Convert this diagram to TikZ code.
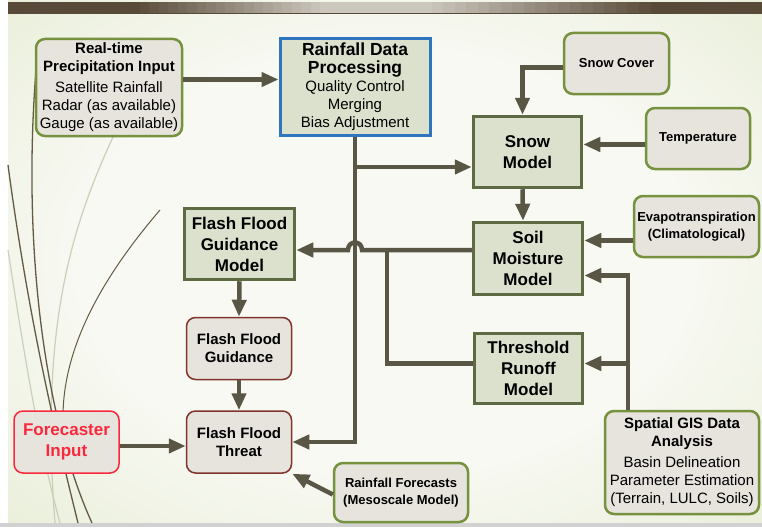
\documentclass[tikz,border=0pt]{standalone}
\usepackage{fontspec}
\setmainfont{Liberation Sans}
\usetikzlibrary{positioning, arrows.meta}

\definecolor{ln}{RGB}{90,86,70}
\definecolor{grn}{RGB}{118,146,62}
\definecolor{mdl}{RGB}{94,107,66}
\definecolor{boxbg}{RGB}{231,228,221}
\definecolor{mdlbg}{RGB}{220,225,205}
\definecolor{blu}{RGB}{46,117,190}
\definecolor{dred}{RGB}{128,52,44}
\definecolor{fred}{RGB}{250,40,60}
\definecolor{bgin}{RGB}{248,249,243}
\definecolor{bgout}{RGB}{221,230,196}
\definecolor{bar}{RGB}{88,74,56}
\definecolor{barhi}{RGB}{205,200,190}
\definecolor{grass}{RGB}{100,90,68}
\definecolor{fgrass}{RGB}{200,208,185}

\pgfdeclareradialshading{slidebg}{\pgfpoint{0bp}{0bp}}{color(0bp)=(bgin); color(20bp)=(bgin); color(50bp)=(bgout)}

\begin{document}
\begin{tikzpicture}[x=1pt, y=-1pt, >={Triangle[length=17pt,width=14pt]},
    conn/.style={draw=ln, line width=4.5pt},
    src/.style={draw=grn, fill=boxbg, line width=2.5pt, rounded corners=9pt, align=center, inner sep=0pt,
        font=\fontsize{15}{18}\selectfont},
    tiny/.style={font=\fontsize{13}{17}\selectfont\bfseries},
    model/.style={draw=mdl, fill=mdlbg, line width=3.5pt, align=center, inner sep=0pt,
        font=\fontsize{17}{21}\selectfont\bfseries},
    prod/.style={draw=dred, fill=boxbg, line width=1.5pt, rounded corners=9pt, align=center, inner sep=0pt,
        font=\fontsize{15}{18}\selectfont\bfseries}]
    % slide background
    \useasboundingbox (0,0) rectangle (762,527);
    \fill[white] (0,0) rectangle (762,527);
    \shade[shading=slidebg] (8,0) rectangle (762,523);
    \fill[black!18] (0,523) rectangle (762,527);
    % title bar with its sheen
    \fill[bar] (8,2) rectangle (762,14);
    \foreach \i [evaluate=\i as \p using int(5*\i)] in {0,...,19}
        \fill[barhi!\p!bar] (130+9.5*\i,2) rectangle (140+9.5*\i,14);
    \fill[barhi] (320,2) rectangle (420,14);
    \foreach \i [evaluate=\i as \p using int(100-5*\i)] in {0,...,19}
        \fill[barhi!\p!bar] (420+11.5*\i,2) rectangle (432+11.5*\i,14);
    \draw[bar, line width=1pt] (8,14) -- (762,14);
    % grass on the left
    \draw[fgrass, line width=1.2pt] (113,137) .. controls (70,230) and (40,330) .. (55,523);
    \draw[fgrass, line width=1.2pt] (8,250) .. controls (25,360) and (40,450) .. (60,523);
    \draw[grass, line width=1.3pt] (8,165) .. controls (30,330) and (60,450) .. (78,523);
    \draw[grass, line width=1.3pt] (36,70) .. controls (22,250) and (45,420) .. (92,523);
    \draw[grass, line width=1pt] (160,210) .. controls (100,280) and (62,350) .. (63,420);

    \node[src, minimum width=146pt, minimum height=97pt] (rt) at (109,87.5)
        {\textbf{Real-time}\\\textbf{Precipitation Input}\\[3pt]Satellite Rainfall\\Radar (as available)\\Gauge (as available)};
    \node[src, draw=blu, fill=mdlbg, line width=3pt, rounded corners=0pt, minimum width=150pt, minimum height=97pt] (rdp) at (355,87)
        {{\fontsize{17.5}{20}\selectfont\bfseries Rainfall Data}\\{\fontsize{17.5}{20}\selectfont\bfseries Processing}\\Quality Control\\Merging\\Bias Adjustment};
    \node[src, tiny, minimum width=105pt, minimum height=61pt] (sc) at (616.5,63.5) {Snow Cover};
    \node[src, tiny, minimum width=104pt, minimum height=61pt] (tmp) at (698,138.5) {Temperature};
    \node[model, minimum width=108pt, minimum height=71pt] (snow) at (527.5,152) {Snow\\Model};
    \node[src, tiny, minimum width=125pt, minimum height=61pt] (evp) at (696.5,226.5) {Evapotranspiration\\(Climatological)};
    \node[model, minimum width=109pt, minimum height=72pt] (soil) at (528,258.5) {Soil\\Moisture\\Model};
    \node[model, minimum width=110pt, minimum height=71pt] (ffgm) at (239.5,244) {Flash Flood\\Guidance\\Model};
    \node[prod, minimum width=105pt, minimum height=62pt] (ffg) at (239,348.5) {Flash Flood\\Guidance};
    \node[model, minimum width=108pt, minimum height=70pt] (thr) at (528.5,368.5) {Threshold\\Runoff\\Model};
    \node[prod, draw=fred, text=fred, font=\fontsize{17}{21}\selectfont\bfseries, minimum width=105pt, minimum height=62pt] (fc) at (66.5,442) {Forecaster\\Input};
    \node[prod, minimum width=105pt, minimum height=62pt] (fft) at (239,442) {Flash Flood\\Threat};
    \node[src, tiny, minimum width=134pt, minimum height=59pt] (rf) at (401,492.5) {Rainfall Forecasts\\(Mesoscale Model)};
    \node[src, minimum width=154pt, minimum height=103pt] (gis) at (682,462.5)
        {\textbf{Spatial GIS Data}\\\textbf{Analysis}\\[3pt]Basin Delineation\\Parameter Estimation\\(Terrain, LULC, Soils)};

    % connectors
    \coordinate (p1) at ([yshift=8pt]rt.east);
    \draw[conn,->] (p1) -- (p1 -| rdp.west);
    \draw[conn,->] (rdp.south) |- (fft.east);
    \coordinate (p2) at ([yshift=-15pt]snow.west);
    \draw[conn,->] (p2 -| rdp.south) -- (p2);
    \coordinate (p3) at ([yshift=-4pt]sc.west);
    \coordinate (p4) at ([xshift=-5pt]snow.north);
    \draw[conn,->] (p3) -| (p4);
    \coordinate (p5) at ([yshift=-6pt]tmp.west);
    \draw[conn,->] (p5) -- (p5 -| snow.east);
    \draw[conn,->] ([xshift=-5pt]snow.south) -- ([xshift=-5pt]soil.north);
    \coordinate (p6) at ([yshift=-14pt]evp.west);
    \draw[conn,->] (p6) -- (p6 -| soil.east);
    % soil moisture to guidance model, hopping over the rainfall line
    \coordinate (p7) at ([yshift=8.5pt]soil.west);
    \coordinate (jc) at (p7 -| rdp.south);
    \draw[conn,->] (p7) -- ([xshift=7pt]jc) .. controls ([xshift=7pt,yshift=10pt]jc) and ([xshift=-7pt,yshift=10pt]jc)
        .. ([xshift=-7pt]jc) -- (jc -| ffgm.east);
    \coordinate (jt) at ([xshift=32pt]jc);
    \coordinate (p9) at ([yshift=5pt]thr.west);
    \draw[conn] (jt) |- (p9);
    % GIS data feeds
    \coordinate (p10) at ([xshift=-54pt]gis.north);
    \coordinate (p11) at ([yshift=-17pt]soil.east);
    \draw[conn,->] (p10) |- (p11);
    \draw[conn,->] (p10 |- p9) -- (p9 -| thr.east);
    \draw[conn,->] (ffgm.south) -- (ffg.north);
    \draw[conn,->] (ffg.south) -- (fft.north);
    \coordinate (p12) at ([yshift=-4pt]fc.east);
    \draw[conn,->] (p12) -- (p12 -| fft.west);
    \draw[conn,->] ([yshift=-2pt]rf.west) -- (fft.south east);
\end{tikzpicture}
\end{document}
